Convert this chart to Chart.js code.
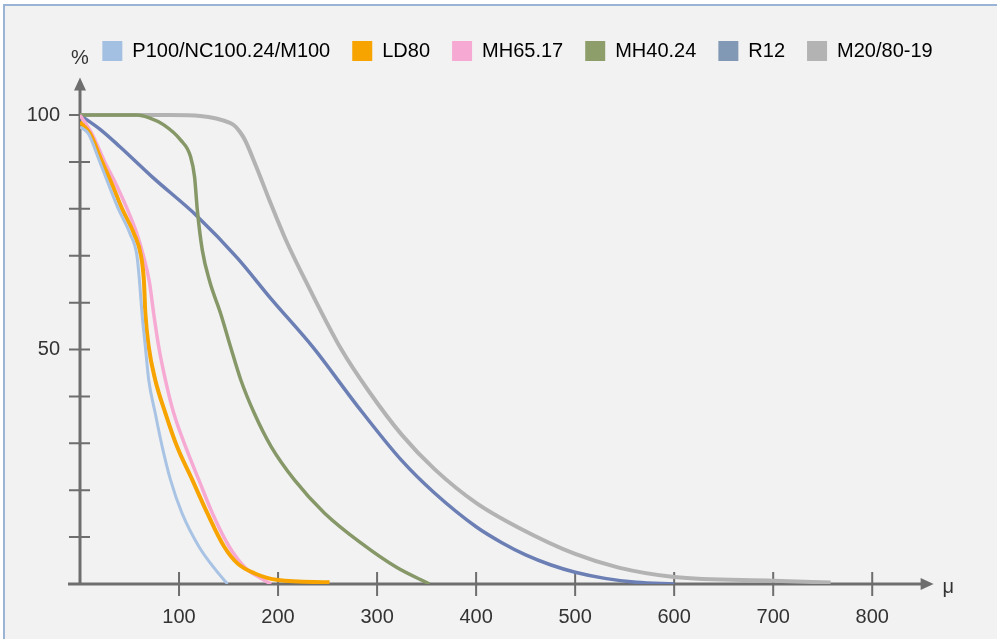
<!DOCTYPE html>
<html>
<head>
<meta charset="utf-8">
<title>Particle size distribution</title>
<script src="https://cdn.jsdelivr.net/npm/chart.js@4.4.1/dist/chart.umd.min.js"></script>
<style>
  html, body { margin: 0; padding: 0; background: #ffffff; }
  #frame {
    position: absolute; left: 3px; top: 4px; width: 994px; height: 633px;
    background: #f2f2f2;
    border-top: 2px solid #9ab4d6;
    border-left: 2px solid #9ab4d6;
  }
  #chart { position: absolute; left: 0; top: 0; }
</style>
</head>
<body>
<div id="frame"></div>
<canvas id="chart" width="997" height="641"></canvas>
<script>
// series names (legend)
const seriesNames = ["P100/NC100.24/M100", "LD80", "MH65.17", "MH40.24", "R12", "M20/80-19"];

// particle size (μ) and passing (%)
const p100X = [0, 8.5, 19.6, 38.5, 50.5, 57.5, 60, 62.6, 66, 69.4, 76, 83, 91.4, 103, 120, 137, 149];
const p100Y = [97.5, 96, 90.2, 80.1, 74.7, 70, 64.8, 57.7, 50.6, 43.5, 36.4, 29.3, 22.2, 15.1, 8, 3, 0];

const ld80X = [0, 10, 22, 32, 42.3, 54.5, 61.6, 64.5, 66, 69.4, 76, 86.3, 98, 113.4, 128.6, 145.5, 159, 176, 200, 252];
const ld80Y = [98.5, 96.1, 90.2, 85.4, 80.1, 74.7, 70, 64.8, 57.7, 50.6, 43.5, 36.4, 29.3, 22.2, 15.1, 8, 4.4, 2.3, 0.85, 0.35];

const mh6517X = [0, 12, 25, 36, 47.4, 57.5, 64, 70, 74.4, 79.5, 86.3, 94.7, 106.6, 120, 133.7, 150.6, 165.8, 182.7, 193];
const mh6517Y = [100, 96, 90, 85.4, 80.1, 74.7, 70, 64.5, 57.7, 50.6, 43.5, 36.4, 29.3, 22.2, 15.1, 8, 3.7, 1.2, 0];

const mh4024X = [0, 57.5, 70, 84.6, 101.5, 111.7, 115.7, 118.5, 123.5, 131, 142, 152, 162.4, 176, 193, 216.5, 247, 284, 320, 353];
const mh4024Y = [100, 100, 99.4, 97.9, 94.7, 91.1, 86.8, 79.7, 71.2, 64.5, 57.7, 50.6, 43.5, 36.4, 29.3, 22.2, 15.1, 8.7, 3.5, 0];

const r12X = [0, 20, 40, 74, 118, 159, 193, 236, 280, 325, 358, 400, 426, 450, 475, 500, 530, 562, 600];
const r12Y = [100, 97, 93.3, 86.6, 78.5, 69.5, 60.8, 50.3, 38, 26.3, 19.4, 12.2, 8.8, 6.2, 4.1, 2.5, 1.2, 0.35, 0];

const m2080X = [0, 91, 152, 165, 178, 191, 208, 231, 264, 292, 325, 358, 400, 443, 500, 544, 600, 700, 758];
const m2080Y = [100, 100, 98.3, 95.3, 89, 82, 73.3, 63.3, 50, 41, 31.8, 24.5, 17.3, 12, 6.4, 3.5, 1.5, 0.7, 0.3];

// axis ticks
const xTickLabels = [100, 200, 300, 400, 500, 600, 700, 800];
const yTickMarks = [10, 20, 30, 40, 50, 60, 70, 80, 90, 100];
const yTickLabels = [50, 100];

const lineColors = ["#a8c3e3", "#f7a300", "#f6a9d2", "#879868", "#6b7fb5", "#b3b3b3"];
const boxColors = ["#a3bfe1", "#f7a300", "#f6a9d2", "#8e9e6a", "#8199b5", "#b3b3b3"];
const lineWidths = [3, 4, 3.5, 3.5, 3.5, 4];

const AXIS = "#6e6e6e";
const TEXT = "#333333";
const FONT = "'Liberation Sans', Arial, sans-serif";

function toPoints(xs, ys) {
  return xs.map((x, i) => ({ x: x, y: ys[i] }));
}

const seriesData = [
  toPoints(p100X, p100Y),
  toPoints(ld80X, ld80Y),
  toPoints(mh6517X, mh6517Y),
  toPoints(mh4024X, mh4024Y),
  toPoints(r12X, r12Y),
  toPoints(m2080X, m2080Y)
];

// axes with arrows and crossing tick marks, drawn under the curves
const axesPlugin = {
  id: "arrowAxes",
  afterLayout(chart) {
    // legend sits a bit right of the canvas centre
    const lg = chart.legend;
    if (lg) {
      lg.left += 19;
      lg.right += 19;
    }
  },
  beforeDatasetsDraw(chart) {
    const ctx = chart.ctx;
    const xs = chart.scales.x;
    const ys = chart.scales.y;
    const x0 = xs.getPixelForValue(0);
    const y0 = ys.getPixelForValue(0);
    const xEnd = xs.getPixelForValue(862);
    const yEnd = ys.getPixelForValue(108);

    ctx.save();
    ctx.strokeStyle = AXIS;
    ctx.fillStyle = AXIS;
    ctx.lineWidth = 3;
    ctx.beginPath();
    ctx.moveTo(x0 - 12, y0);
    ctx.lineTo(xEnd - 10, y0);
    ctx.moveTo(x0, y0);
    ctx.lineTo(x0, yEnd + 10);
    ctx.stroke();

    // arrow heads
    ctx.beginPath();
    ctx.moveTo(xEnd, y0);
    ctx.lineTo(xEnd - 13, y0 - 6);
    ctx.lineTo(xEnd - 13, y0 + 6);
    ctx.closePath();
    ctx.fill();
    ctx.beginPath();
    ctx.moveTo(x0, yEnd);
    ctx.lineTo(x0 - 6, yEnd + 13);
    ctx.lineTo(x0 + 6, yEnd + 13);
    ctx.closePath();
    ctx.fill();

    // tick marks
    ctx.lineWidth = 2;
    ctx.beginPath();
    xTickLabels.forEach(v => {
      const px = xs.getPixelForValue(v);
      ctx.moveTo(px, y0 - 12);
      ctx.lineTo(px, y0 + 12);
    });
    yTickMarks.forEach(v => {
      const py = ys.getPixelForValue(v);
      ctx.moveTo(x0 - 11, py);
      ctx.lineTo(x0 + 10, py);
    });
    ctx.stroke();

    // axis units
    ctx.fillStyle = TEXT;
    ctx.font = "20px " + FONT;
    ctx.textAlign = "center";
    ctx.textBaseline = "middle";
    ctx.fillText("%", x0, yEnd - 19);
    ctx.textAlign = "left";
    ctx.fillText("μ", xEnd + 9, y0 + 3);
    ctx.restore();
  }
};

Chart.defaults.font.family = FONT;
Chart.defaults.font.size = 20;
Chart.defaults.color = TEXT;

new Chart(document.getElementById("chart"), {
  type: "line",
  data: {
    datasets: seriesNames.map((name, i) => ({
      label: name,
      data: seriesData[i],
      borderColor: lineColors[i],
      backgroundColor: boxColors[i],
      borderWidth: lineWidths[i],
      pointRadius: 0,
      fill: false,
      cubicInterpolationMode: "monotone"
    }))
  },
  options: {
    responsive: false,
    animation: false,
    devicePixelRatio: 1,
    layout: { padding: { top: 19, left: 0, right: 0, bottom: 0 } },
    plugins: {
      tooltip: { enabled: false },
      legend: {
        display: true,
        position: "top",
        labels: {
          boxWidth: 20,
          boxHeight: 20,
          padding: 22,
          color: TEXT,
          font: { size: 20 },
          generateLabels(chart) {
            return chart.data.datasets.map((ds, i) => ({
              text: ds.label,
              fillStyle: boxColors[i],
              strokeStyle: boxColors[i],
              lineWidth: 0,
              hidden: false,
              datasetIndex: i
            }));
          }
        }
      }
    },
    scales: {
      x: {
        type: "linear",
        min: 0,
        max: 926,
        grid: { display: false, drawTicks: false },
        border: { display: false },
        afterFit(scale) { scale.height = 57; },
        afterBuildTicks(scale) { scale.ticks = xTickLabels.map(v => ({ value: v })); },
        ticks: {
          autoSkip: false,
          maxRotation: 0,
          padding: 21,
          color: TEXT
        }
      },
      y: {
        type: "linear",
        min: 0,
        max: 109.4,
        grid: { display: false, drawTicks: false },
        border: { display: false },
        afterFit(scale) { scale.width = 80; },
        afterBuildTicks(scale) { scale.ticks = yTickLabels.map(v => ({ value: v })); },
        ticks: {
          autoSkip: false,
          padding: 20,
          color: TEXT
        }
      }
    }
  },
  plugins: [axesPlugin]
});
</script>
</body>
</html>
